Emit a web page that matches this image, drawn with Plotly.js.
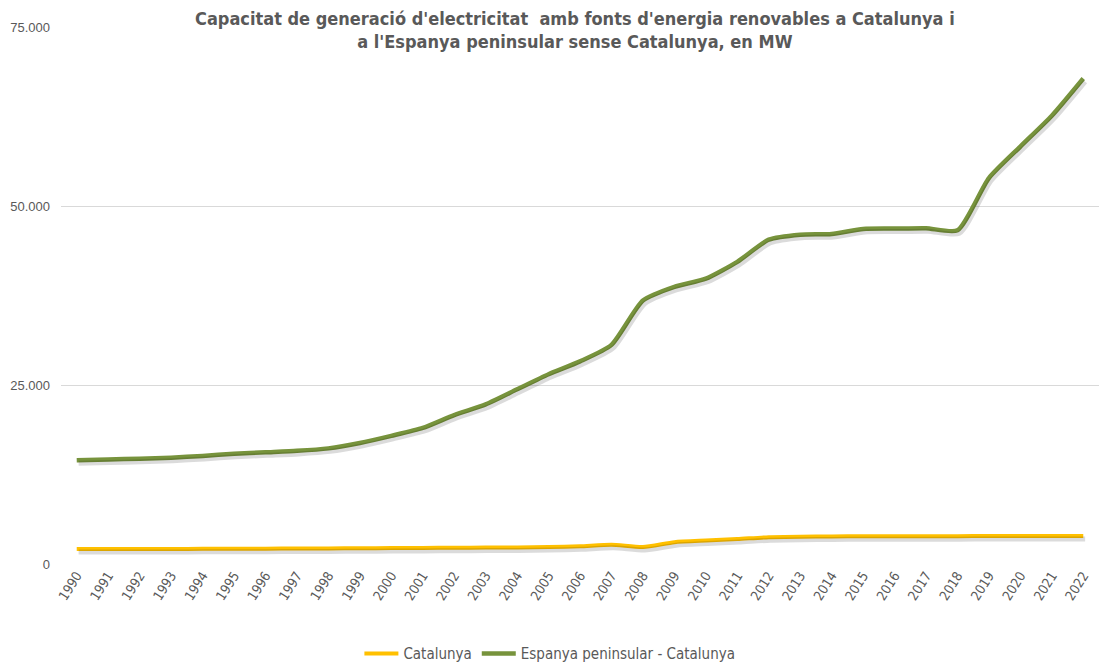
<!DOCTYPE html>
<html>
<head>
<meta charset="utf-8">
<script src="https://cdn.plot.ly/plotly-3.0.1.min.js"></script>
<style>html,body{margin:0;padding:0;background:#fff;}#chart{width:1100px;height:671px;}</style>
</head>
<body>
<div id="chart"></div>
<script>
const years = [1990,1991,1992,1993,1994,1995,1996,1997,1998,1999,2000,2001,2002,2003,2004,2005,2006,2007,2008,2009,2010,2011,2012,2013,2014,2015,2016,2017,2018,2019,2020,2021,2022];
const catalunya = [2100,2100,2100,2100,2120,2130,2140,2160,2180,2200,2220,2250,2270,2290,2320,2380,2480,2700,2380,3050,3280,3480,3750,3820,3840,3880,3890,3890,3890,3900,3900,3900,3900];
const espanyaSenseCat = [14500,14600,14700,14850,15100,15400,15600,15800,16150,16900,17900,19000,20800,22300,24400,26500,28300,30600,36800,38700,39850,42200,45300,46000,46100,46800,46850,46900,46600,53900,58300,62600,67800];
const yTicks = [0,25000,50000,75000];

const FONT = '"Liberation Sans Narrow","DejaVu Sans Condensed","Roboto Condensed",sans-serif';
const GREY = '#595959';

const traces = [
  {x: years, y: catalunya, xaxis:'x2', yaxis:'y2', mode:'lines', line:{color:'rgba(0,0,0,0.14)', width:5, shape:'spline', smoothing:0.6}, showlegend:false, hoverinfo:'skip'},
  {x: years, y: espanyaSenseCat, xaxis:'x2', yaxis:'y2', mode:'lines', line:{color:'rgba(0,0,0,0.14)', width:5, shape:'spline', smoothing:0.6}, showlegend:false, hoverinfo:'skip'},
  {x: years, y: catalunya, name:'Catalunya', mode:'lines', line:{color:'#FFC000', width:4, shape:'spline', smoothing:0.6}},
  {x: years, y: espanyaSenseCat, name:'Espanya peninsular - Catalunya', mode:'lines', line:{color:'#77933C', width:4.5, shape:'spline', smoothing:0.6}}
];

const layout = {
  width:1100, height:671,
  margin:{l:61, r:1, t:27, b:104},
  paper_bgcolor:'#fff', plot_bgcolor:'#fff',
  separators:',.',
  showlegend:true,
  font:{family:FONT, color:GREY},
  xaxis:{range:[1989.5,2022.5], tickmode:'array', tickvals:years, ticktext:years.map(String), tickangle:-58,
         tickfont:{family:FONT, size:13.5, color:GREY}, showgrid:false, zeroline:false, showline:false, ticks:'', fixedrange:true},
  yaxis:{range:[0,75000], tickmode:'array', tickvals:yTicks, tickformat:',d', tickfont:{family:'"Liberation Sans","DejaVu Sans",sans-serif', size:13, color:GREY},
         showgrid:true, gridcolor:'#D9D9D9', gridwidth:1, zeroline:false, showline:false, ticks:'', ticklen:0, ticklabelstandoff:10, fixedrange:true},
  xaxis2:{overlaying:'x', range:[1989.5-0.06,2022.5-0.06], visible:false, fixedrange:true},
  yaxis2:{overlaying:'y', range:[420,75420], visible:false, fixedrange:true},
  legend:{orientation:'h', x:0.471, xanchor:'center', y:-0.167, yanchor:'middle', font:{family:FONT, size:15, color:GREY}, itemwidth:34, traceorder:'normal'},
  annotations:[{
    xref:'paper', yref:'paper', x:0.495, y:1.045, xanchor:'center', yanchor:'top',
    text:"<b>Capacitat de generació d'electricitat  amb fonts d'energia renovables a Catalunya i<br>a l'Espanya peninsular sense Catalunya, en MW</b>",
    showarrow:false, bgcolor:'#ffffff', font:{family:FONT, size:18, color:GREY}, align:'center', borderpad:4
  }]
};

Plotly.newPlot('chart', traces, layout, {displayModeBar:false, staticPlot:true});
</script>
</body>
</html>
